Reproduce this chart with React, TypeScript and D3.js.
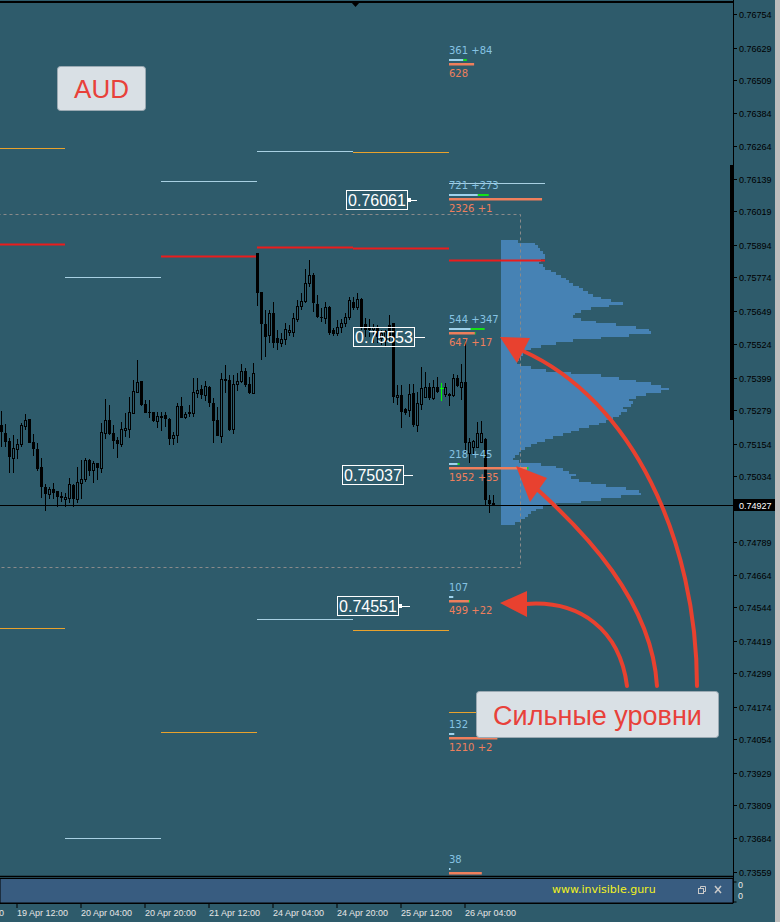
import React from "react";
import * as d3 from "d3";

// ---------- DATA ----------
const priceTicks = ["0.76754","0.76629","0.76509","0.76384","0.76264","0.76139","0.76019","0.75894","0.75774","0.75649","0.75524","0.75399","0.75279","0.75154","0.75034","0.74909","0.74789","0.74664","0.74544","0.74419","0.74299","0.74174","0.74054","0.73929","0.73809","0.73684","0.73559"];
const currentPrice = 0.74927;

const timeLabels = ["18 Apr 20:00","19 Apr 12:00","20 Apr 04:00","20 Apr 20:00","21 Apr 12:00","24 Apr 04:00","24 Apr 20:00","25 Apr 12:00","26 Apr 04:00"];
const timeTickBars = [-12, 4, 20, 36, 52, 68, 84, 100, 116];

// OHLC per H1 bar (bar 0 = 19 Apr 08:00)
const candles: [number, number, number, number][] = [
  [0.75223,0.75276,0.75141,0.75197],[0.75194,0.75227,0.75141,0.75160],[0.75164,0.75175,0.75045,0.75104],[0.75101,0.75186,0.75045,0.75138],
  [0.75134,0.75171,0.75097,0.75153],[0.75153,0.75231,0.75141,0.75223],[0.75220,0.75264,0.75205,0.75242],[0.75246,0.75246,0.75156,0.75156],
  [0.75160,0.75190,0.75108,0.75134],[0.75134,0.75156,0.75052,0.75060],[0.75067,0.75101,0.74952,0.74993],[0.74993,0.75004,0.74903,0.74966],
  [0.74966,0.74993,0.74948,0.74985],[0.74985,0.75007,0.74948,0.74970],[0.74978,0.74978,0.74918,0.74955],[0.74959,0.74974,0.74937,0.74952],
  [0.74948,0.74970,0.74918,0.74955],[0.74952,0.75026,0.74933,0.75004],[0.75000,0.75004,0.74918,0.74948],[0.74948,0.75067,0.74933,0.75011],
  [0.75007,0.75093,0.74948,0.75022],[0.75022,0.75101,0.75011,0.75093],[0.75093,0.75097,0.75034,0.75052],[0.75056,0.75089,0.75007,0.75082],
  [0.75082,0.75082,0.75019,0.75063],[0.75063,0.75231,0.75045,0.75197],[0.75194,0.75320,0.75171,0.75242],[0.75242,0.75298,0.75186,0.75190],
  [0.75194,0.75223,0.75134,0.75164],[0.75168,0.75179,0.75101,0.75153],[0.75153,0.75235,0.75141,0.75209],[0.75205,0.75268,0.75179,0.75212],
  [0.75209,0.75328,0.75175,0.75272],[0.75268,0.75391,0.75264,0.75350],[0.75346,0.75466,0.75343,0.75384],[0.75387,0.75387,0.75294,0.75298],
  [0.75302,0.75317,0.75268,0.75268],[0.75272,0.75317,0.75250,0.75268],[0.75272,0.75272,0.75235,0.75238],[0.75238,0.75272,0.75212,0.75257],
  [0.75257,0.75272,0.75201,0.75250],[0.75261,0.75272,0.75216,0.75246],[0.75246,0.75250,0.75149,0.75171],[0.75175,0.75197,0.75149,0.75186],
  [0.75186,0.75305,0.75156,0.75294],[0.75294,0.75328,0.75250,0.75250],[0.75253,0.75272,0.75246,0.75264],[0.75268,0.75298,0.75253,0.75272],
  [0.75268,0.75398,0.75253,0.75346],[0.75343,0.75398,0.75324,0.75354],[0.75358,0.75372,0.75320,0.75335],[0.75335,0.75387,0.75313,0.75369],
  [0.75365,0.75369,0.75290,0.75305],[0.75305,0.75324,0.75156,0.75238],[0.75242,0.75290,0.75183,0.75183],[0.75183,0.75417,0.75156,0.75395],
  [0.75391,0.75447,0.75343,0.75393],[0.75391,0.75410,0.75201,0.75205],[0.75209,0.75410,0.75190,0.75376],[0.75376,0.75417,0.75350,0.75387],
  [0.75387,0.75451,0.75380,0.75424],[0.75424,0.75436,0.75365,0.75372],[0.75376,0.75402,0.75339,0.75343],[0.75343,0.75454,0.75339,0.75417],
  [0.75864,0.75864,0.75667,0.75715],[0.75719,0.75719,0.75466,0.75600],[0.75600,0.75652,0.75477,0.75551],[0.75559,0.75652,0.75529,0.75641],
  [0.75641,0.75682,0.75510,0.75529],[0.75547,0.75577,0.75503,0.75529],[0.75529,0.75566,0.75514,0.75544],[0.75544,0.75603,0.75521,0.75581],
  [0.75570,0.75596,0.75555,0.75577],[0.75570,0.75641,0.75551,0.75622],[0.75618,0.75689,0.75607,0.75667],[0.75667,0.75715,0.75652,0.75685],
  [0.75685,0.75804,0.75678,0.75752],[0.75752,0.75838,0.75737,0.75782],[0.75782,0.75789,0.75644,0.75678],[0.75674,0.75708,0.75622,0.75626],
  [0.75626,0.75659,0.75607,0.75622],[0.75622,0.75682,0.75600,0.75663],[0.75663,0.75667,0.75559,0.75566],[0.75577,0.75585,0.75555,0.75562],
  [0.75566,0.75614,0.75555,0.75588],[0.75588,0.75618,0.75566,0.75603],[0.75603,0.75641,0.75588,0.75626],[0.75626,0.75700,0.75614,0.75689],
  [0.75682,0.75700,0.75652,0.75659],[0.75663,0.75715,0.75652,0.75693],[0.75693,0.75696,0.75577,0.75588],[0.75600,0.75622,0.75551,0.75577],
  [0.75588,0.75618,0.75551,0.75577],[0.75581,0.75600,0.75529,0.75588],[0.75588,0.75596,0.75529,0.75551],[0.75547,0.75577,0.75521,0.75566],
  [0.75540,0.75577,0.75514,0.75573],[0.75596,0.75633,0.75532,0.75547],[0.75603,0.75603,0.75305,0.75328],[0.75328,0.75372,0.75298,0.75335],
  [0.75335,0.75372,0.75212,0.75272],[0.75283,0.75287,0.75261,0.75268],[0.75279,0.75376,0.75253,0.75339],[0.75343,0.75376,0.75216,0.75223],
  [0.75223,0.75346,0.75197,0.75305],[0.75302,0.75439,0.75279,0.75361],[0.75328,0.75421,0.75324,0.75365],[0.75365,0.75380,0.75317,0.75324],
  [0.75324,0.75391,0.75317,0.75365],[0.75365,0.75402,0.75343,0.75346],[0.75361,0.75380,0.75313,0.75361],[0.75339,0.75380,0.75328,0.75365],
  [0.75339,0.75343,0.75294,0.75331],[0.75335,0.75413,0.75328,0.75398],[0.75398,0.75410,0.75365,0.75369],[0.75365,0.75451,0.75317,0.75384],
  [0.75384,0.75540,0.75123,0.75156],[0.75119,0.75175,0.75082,0.75160],[0.75141,0.75168,0.75112,0.75164],[0.75141,0.75235,0.75141,0.75194],
  [0.75160,0.75238,0.75156,0.75194],[0.75171,0.75175,0.74926,0.74944],[0.74944,0.74963,0.74896,0.74929],[0.74933,0.74963,0.74926,0.74927],
];
const markedBar = 110;

// Daily levels
const dayStartBars = [-8, 16, 40, 64, 88, 112];
const barsPerDay = 24;
const levelDay = [0, 0, 0, 1, 1, 2, 2, 2, 3, 3, 3, 4, 4, 4, 5, 5, 5];
const levelPrice = [0.76255, 0.75898, 0.74468, 0.75775, 0.73686, 0.76132, 0.75853, 0.74080, 0.76244, 0.75886, 0.74501, 0.76240, 0.75883, 0.74460, 0.76125, 0.75838, 0.74155];
const levelKind = ["orange","red","orange","blue","blue","blue","red","orange","blue","red","blue","orange","red","orange","blue","red","orange"];

// Volume profile (bins of 0.0001 from the top price down)
const profileTop = 0.75912;
const profileBin = 0.0001;
const profileVolumes = [17,34,37,39,42,44,44,40,38,42,44,50,55,60,65,68,72,78,82,87,92,100,110,122,108,90,80,74,72,80,95,115,135,148,150,128,100,72,55,40,30,25,22,20,18,16,20,30,45,70,100,118,135,150,160,168,160,145,135,128,132,130,122,126,120,118,112,105,98,88,78,70,62,52,44,36,30,24,20,18,14,12,18,40,55,62,68,75,70,78,90,105,125,138,140,120,100,80,55,42,35,30,27,24,20,14];

// Range box
const rangeHigh = 0.76009;
const rangeLow = 0.74695;
const rangeStartBar = -10;
const rangeEndBar = 130;

// Level counters
const groupPrice = [0.76566, 0.76065, 0.75566, 0.75063, 0.74568, 0.74058, 0.73555];
const groupBlue = [361, 721, 544, 218, 107, 132, 38];
const groupBluePlus = [84, 273, 347, 45, 0, 0, 0];
const groupSalmon = [628, 2326, 647, 1952, 499, 1210, 820];
const groupSalmonPlus = [0, 1, 17, 35, 22, 2, 0];

// Price callouts
const calloutPrice = [0.76061, 0.75553, 0.75037, 0.74551];
const calloutRight = [408, 415, 404, 399];
const calloutTail = [9, 10, 9, 11];
const calloutSquare = [true, false, false, true];

// ---------- STYLE ----------
const BG = "#2e5b6b";
const LEVEL_COLORS: Record<string, string> = { orange: "#e9a22c", red: "#ec1c1c", blue: "#a8d0e2" };
const BLUE_TXT = "#86c3e3";
const SALMON = "#ef7f5c";
const GREEN = "#16e016";
const AXIS_FONT = "'Liberation Sans', Arial, sans-serif";
const LABEL_FONT = "'DejaVu Sans', Verdana, sans-serif";

export default function App() {
  const x = d3.scaleLinear().domain([0, 1]).range([1.5, 5.5]);
  const y = d3.scaleLinear().domain([0.73559, 0.76754]).range([872, 14]);
  const pv = d3.scaleLinear().domain([0, 168]).range([501, 669]);
  const cnt = d3.scaleLinear().domain([0, 25]).range([0, 1]);
  const R = (v: number) => Math.round(v);
  const yCur = R(y(currentPrice));

  const arrowColor = "#e8412f";

  return (
    <svg width={780} height={922} viewBox="0 0 780 922"
      style={{ position: "absolute", left: 0, top: 0, display: "block" }}
      xmlns="http://www.w3.org/2000/svg">
      <defs>
        <clipPath id="main"><rect x={0} y={3} width={733} height={873} /></clipPath>
      </defs>
      <rect x={0} y={0} width={780} height={922} fill={BG} />

      <g clipPath="url(#main)">
        {/* volume profile */}
        <g shapeRendering="crispEdges">
          {profileVolumes.map((v, i) => {
            const y0 = y(profileTop - i * profileBin);
            const y1 = y(profileTop - (i + 1) * profileBin);
            return <rect key={i} x={pv(0)} y={R(y0)} width={pv(v) - pv(0)} height={Math.max(1, R(y1) - R(y0))} fill="#4682b4" />;
          })}
        </g>

        {/* dashed range box */}
        <rect x={x(rangeStartBar)} y={R(y(rangeHigh)) + 0.5} width={x(rangeEndBar) - x(rangeStartBar) - 1}
          height={R(y(rangeLow)) - R(y(rangeHigh))} fill="none" stroke="#8a8a8a" strokeWidth={1} strokeDasharray="3,3" />

        {/* daily levels */}
        {levelPrice.map((p, i) => {
          const d = dayStartBars[levelDay[i]];
          const kind = levelKind[i];
          const yy = R(y(p)) + 0.5;
          return <line key={i} x1={x(d) - 0.5} x2={x(d + barsPerDay) - 0.5} y1={yy} y2={yy}
            stroke={LEVEL_COLORS[kind]} strokeWidth={kind === "red" ? 2 : 1} />;
        })}

        {/* current price line */}
        <line x1={0} x2={733} y1={yCur + 0.5} y2={yCur + 0.5} stroke="#000" strokeWidth={1} />

        {/* candles */}
        <g shapeRendering="crispEdges">
          {candles.map((c, i) => {
            const [o, h, l, cl] = c;
            const cx = x(i);
            const yh = R(y(h)), yl = R(y(l));
            const top = R(y(Math.max(o, cl))), bot = R(y(Math.min(o, cl)));
            if (i === markedBar) {
              return (
                <g key={i}>
                  <line x1={cx} x2={cx} y1={yh} y2={yl} stroke="#00ff00" strokeWidth={1} />
                  <line x1={cx - 2} x2={cx + 2} y1={top + 0.5} y2={top + 0.5} stroke="#00ff00" strokeWidth={1} />
                </g>
              );
            }
            const bull = cl >= o;
            return (
              <g key={i}>
                <line x1={cx} x2={cx} y1={yh} y2={yl} stroke="#000" strokeWidth={1} />
                {bull ? (
                  <rect x={cx - 1} y={top + 0.5} width={2} height={Math.max(1, bot - top)} fill={BG} stroke="#000" strokeWidth={1} />
                ) : (
                  <rect x={cx - 1.5} y={top} width={3} height={Math.max(1, bot - top)} fill="#000" />
                )}
              </g>
            );
          })}
        </g>

        {/* level counters */}
        {groupPrice.map((p, i) => {
          const ys = R(y(p));
          const x0 = x(dayStartBars[5]) - 0.5;
          const bw = cnt(groupBlue[i]);
          const bg = cnt(groupBluePlus[i]);
          const sw = cnt(groupSalmon[i]);
          const sg = cnt(groupSalmonPlus[i]);
          return (
            <g key={i} fontFamily={LABEL_FONT} fontSize={10}>
              <text x={x0} y={ys - 10} fill={BLUE_TXT}>{groupBlue[i] + (groupBluePlus[i] ? " +" + groupBluePlus[i] : "")}</text>
              <rect x={x0} y={ys - 5} width={bw} height={2} fill="#9fd2ec" />
              {bg > 0 && <rect x={x0 + bw} y={ys - 5} width={bg} height={2} fill={GREEN} />}
              <rect x={x0} y={ys - 1} width={sw} height={2.5} fill={SALMON} />
              {sg > 0 && <rect x={x0 + sw} y={ys - 1} width={sg} height={2.5} fill={GREEN} />}
              <text x={x0} y={ys + 13} fill={SALMON}>{groupSalmon[i] + (groupSalmonPlus[i] ? " +" + groupSalmonPlus[i] : "")}</text>
            </g>
          );
        })}

        {/* price callouts */}
        {calloutPrice.map((p, i) => {
          const yc = R(y(p));
          const xr = calloutRight[i];
          return (
            <g key={i}>
              <rect x={xr - 62 + 0.5} y={yc - 10 + 0.5} width={61} height={19} fill="none" stroke="#fff" strokeWidth={1} />
              <text x={xr - 31} y={yc + 5.5} textAnchor="middle" fill="#fff" fontFamily={AXIS_FONT} fontSize={16}>{p.toFixed(5)}</text>
              {calloutSquare[i] && <rect x={xr} y={yc - 2} width={3} height={4} fill="#fff" />}
              <line x1={xr} x2={xr + calloutTail[i]} y1={yc + 0.5} y2={yc + 0.5} stroke="#fff" strokeWidth={1} />
            </g>
          );
        })}
      </g>

      {/* top border & marker */}
      <rect x={0} y={1} width={733} height={2} fill="#000" />
      <polygon points="351,2 360,2 355.5,7" fill="#000" />

      {/* right axis */}
      <rect x={775} y={0} width={5} height={922} fill="#bdbdbd" />
      <line x1={733.5} x2={733.5} y1={0} y2={903} stroke="#000" strokeWidth={1} />
      <rect x={730} y={165} width={3} height={255} fill="#000" />
      <g fontFamily={AXIS_FONT} fontSize={9} fill="#000">
        {priceTicks.map((t, i) => {
          const yy = R(y(parseFloat(t)));
          if (Math.abs(yy - yCur) < 8) {
            return <line key={i} x1={733} x2={737} y1={yy + 0.5} y2={yy + 0.5} stroke="#000" />;
          }
          return (
            <g key={i}>
              <line x1={733} x2={737} y1={yy + 0.5} y2={yy + 0.5} stroke="#000" />
              <text x={739} y={yy + 3.5}>{t}</text>
            </g>
          );
        })}
      </g>
      <rect x={733} y={yCur - 6} width={42} height={12} fill="#000" />
      <text x={739} y={yCur + 3.5} fontFamily={AXIS_FONT} fontSize={9} fill="#fff">{currentPrice.toFixed(5)}</text>

      {/* bottom of main window */}
      <line x1={0} x2={733} y1={876.5} y2={876.5} stroke="#000" strokeWidth={1.5} />

      {/* indicator sub-window */}
      <rect x={0} y={878.5} width={733} height={24.5} fill="#385c80" stroke="#000" strokeWidth={1} />
      <text x={552} y={893} fontFamily={LABEL_FONT} fontSize={11} fill="#f2f21e">www.invisible.guru</text>
      <g stroke="#c9c9c9" strokeWidth={1} fill="none">
        <rect x={698.5} y={888.5} width={5} height={5} />
        <polyline points="700.5,888.5 700.5,886.5 705.5,886.5 705.5,891.5 703.5,891.5" />
        <line x1={715} x2={721} y1={886} y2={893} strokeWidth={1.5} />
        <line x1={721} x2={715} y1={886} y2={893} strokeWidth={1.5} />
      </g>
      <g fontFamily={AXIS_FONT} fontSize={9} fill="#e8e8e8">
        <text x={738} y={888}>0</text>
        <text x={738} y={899}>0</text>
      </g>
      <path d="M733.5,882 h3 M733.5,902 h3" stroke="#000" />

      {/* time axis */}
      <line x1={0} x2={733} y1={903.5} y2={903.5} stroke="#000" />
      <g fontFamily={AXIS_FONT} fontSize={9} fill="#e6e6e6">
        {timeTickBars.map((b, i) => {
          const xt = x(b) - 0.5;
          return (
            <g key={i}>
              <line x1={xt} x2={xt} y1={903} y2={908} stroke="#000" />
              <text x={xt} y={916}>{timeLabels[i]}</text>
            </g>
          );
        })}
      </g>

      {/* AUD label */}
      <rect x={57.5} y={66.5} width={88} height={44} rx={3} fill="#d9e0e5" stroke="#9aa9b2" strokeWidth={1} />
      <text x={101.5} y={98} textAnchor="middle" fontFamily={AXIS_FONT} fontSize={26} fill="#e8413a">AUD</text>

      {/* arrows */}
      <g fill="none" stroke={arrowColor} strokeWidth={4} strokeLinecap="round">
        <path d="M697,686 C697,540 632,400 523,351" />
        <path d="M657,686 C652,600 582,530 538,490" />
        <path d="M627,686 C620,630 580,600 526,604" />
      </g>
      <g fill={arrowColor}>
        <polygon points="500,337 530,338 517,363" />
        <polygon points="516,466 547,478 530,502" />
        <polygon points="500,603 527,591 527,617" />
      </g>

      {/* strong levels label */}
      <rect x={476.5} y={691.5} width={242} height={46} rx={3} fill="#d9e0e5" stroke="#9aa9b2" strokeWidth={1} />
      <text x={597.5} y={725} textAnchor="middle" fontFamily={AXIS_FONT} fontSize={27} fill="#e8413a">Сильные уровни</text>
    </svg>
  );
}
